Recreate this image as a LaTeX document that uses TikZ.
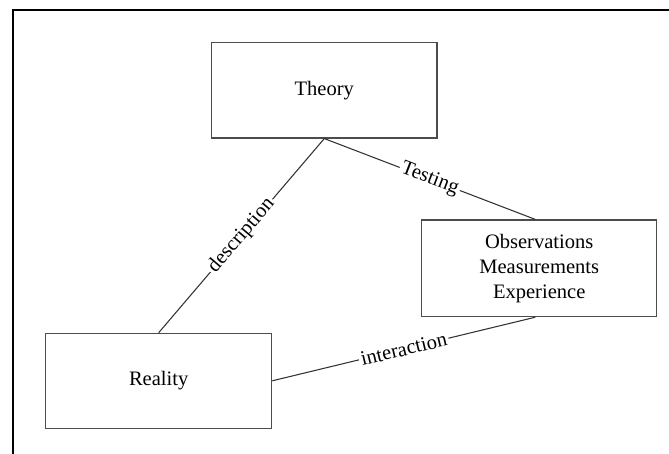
\documentclass[tikz,border=0pt]{standalone}
\usepackage{fontspec}
\setmainfont{Liberation Serif}
\begin{document}
\begin{tikzpicture}[x=0.75pt,y=-0.75pt,
  every node/.style={font=\fontsize{15.4pt}{18.8pt}\selectfont},
  box/.style={draw=black!70, line width=0.9pt, fill=white, align=center,
              minimum width=169pt, minimum height=71.5pt, inner sep=0pt},
  link/.style={draw=black!80, line width=0.8pt},
  tag/.style={fill=white, inner sep=1.5pt, sloped, pos=0.5}]
  \useasboundingbox (0,0) rectangle (669,454);
  % outer frame (top and left edges)
  \draw[line width=1.5pt, line cap=rect] (669,10) -- (12.7,10) -- (12.7,460);

  \node[box] (theory) at (324.3,90.3) {Theory};
  \node[box, minimum width=176.25pt, minimum height=72.5pt] (obs) at (539.2,268.3)
       {Observations\\Measurements\\Experience};
  \node[box, minimum width=169.5pt, minimum height=71.25pt] (reality) at (158.7,380.8) {Reality};

  \draw[link] (theory.south) -- node[tag] {description} (reality.north);
  \draw[link] (theory.south) -- node[tag] {Testing} ([xshift=-3pt]obs.north);
  \draw[link] (reality.east) -- node[tag] {interaction} ([xshift=-3pt]obs.south);
\end{tikzpicture}
\end{document}
